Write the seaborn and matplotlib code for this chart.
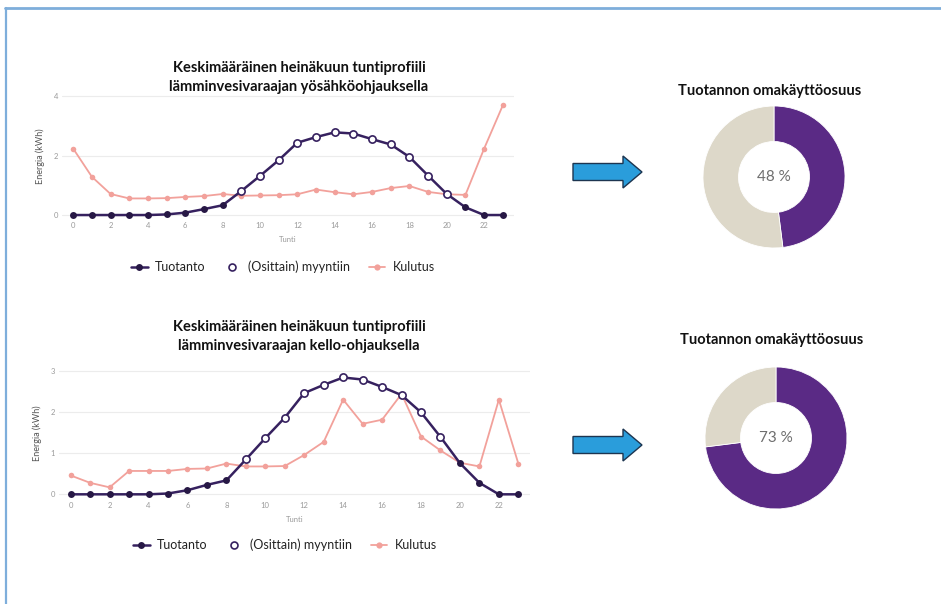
import numpy as np
import pandas as pd
import matplotlib
matplotlib.use("Agg")
import matplotlib.pyplot as plt
from matplotlib.lines import Line2D
from matplotlib.patches import Polygon
import seaborn as sns

# ---- data -------------------------------------------------------------
tunnit = list(range(24))

# July average hourly profile, water heater on night-tariff control
tuotanto_yo = [0, 0, 0, 0, 0, 0.02, 0.08, 0.20, 0.33, 0.81, 1.32, 1.85,
               2.44, 2.63, 2.79, 2.75, 2.56, 2.38, 1.96, 1.33, 0.71, 0.26, 0, 0]
kulutus_yo = [2.24, 1.29, 0.71, 0.56, 0.56, 0.57, 0.61, 0.64, 0.71, 0.65, 0.66, 0.67,
              0.70, 0.86, 0.77, 0.70, 0.78, 0.91, 0.98, 0.78, 0.70, 0.68, 2.24, 3.70]
myynti_tunnit_yo = [9, 10, 11, 12, 13, 14, 15, 16, 17, 18, 19, 20]

# July average hourly profile, water heater on clock control
tuotanto_kello = [0, 0, 0, 0, 0, 0.02, 0.10, 0.23, 0.34, 0.85, 1.37, 1.87,
                  2.47, 2.67, 2.85, 2.80, 2.62, 2.42, 2.00, 1.40, 0.76, 0.28, 0, 0]
kulutus_kello = [0.46, 0.28, 0.17, 0.57, 0.57, 0.57, 0.62, 0.63, 0.75, 0.68, 0.68, 0.69,
                 0.96, 1.28, 2.31, 1.72, 1.82, 2.45, 1.41, 1.07, 0.77, 0.68, 2.31, 0.75]
myynti_tunnit_kello = [9, 10, 11, 12, 13, 14, 15, 16, 17, 18, 19]

omakaytto_yo = 48
omakaytto_kello = 73

otsikko_yo = ["Keskimääräinen heinäkuun tuntiprofiili",
              "lämminvesivaraajan yösähköohjauksella"]
otsikko_kello = ["Keskimääräinen heinäkuun tuntiprofiili",
                 "lämminvesivaraajan kello-ohjauksella"]
donitsi_otsikko = "Tuotannon omakäyttöosuus"
sarjat = ["Tuotanto", "(Osittain) myyntiin", "Kulutus"]

# ---- style ------------------------------------------------------------
sns.set_theme(style="white")
plt.rcParams["font.family"] = ["Lato", "DejaVu Sans"]

C_PROD = "#36215f"
C_PROD_MK = "#271845"
C_CONS = "#f2a19b"
C_DONUT = "#5a2a85"
C_REST = "#ddd8c9"
C_TICK = "#9a9a9a"
C_GRID = "#ececec"

W, H = 941, 604
fig = plt.figure(figsize=(W / 100, H / 100), dpi=100)
fig.patch.set_facecolor("white")


def fx(px):
    return px / W


def fy(py):
    return 1 - py / H


def box(left, top, width, height):
    return [fx(left), fy(top + height), width / W, height / H]


def line_panel(rect, tuotanto, kulutus, myynti_tunnit, ylim, yticks,
               title, title_x, title_ys, legend_xy, xlabel_xy):
    ax = fig.add_axes(rect)
    df = pd.DataFrame({"Tunti": tunnit, "Tuotanto": tuotanto, "Kulutus": kulutus})
    sns.lineplot(data=df, x="Tunti", y="Kulutus", ax=ax, color=C_CONS, lw=1.3,
                 marker="o", markersize=4, markeredgewidth=0,
                 markerfacecolor=C_CONS, legend=False, zorder=2)
    sns.lineplot(data=df, x="Tunti", y="Tuotanto", ax=ax, color=C_PROD, lw=1.8,
                 marker="o", markersize=5, markeredgewidth=0,
                 markerfacecolor=C_PROD_MK, legend=False, zorder=3)
    sel = df[df["Tunti"].isin(myynti_tunnit)]
    ax.plot(sel["Tunti"], sel["Tuotanto"], ls="none", marker="o", ms=5.2,
            mfc="white", mec=C_PROD, mew=1.2, zorder=4)

    ax.set_xlim(-0.6, 23.6)
    ax.set_ylim(*ylim)
    ax.set_xticks(range(0, 24, 2))
    ax.set_yticks(yticks)
    ax.tick_params(axis="both", labelsize=5.5, labelcolor=C_TICK, length=0, pad=3)
    ax.grid(axis="y", color=C_GRID, lw=0.8)
    ax.grid(axis="x", visible=False)
    for s in ax.spines.values():
        s.set_visible(False)
    ax.set_xlabel("")
    ax.set_ylabel("Energia (kWh)", fontsize=6.5, color="#555555", labelpad=6)
    fig.text(fx(xlabel_xy[0]), fy(xlabel_xy[1]), "Tunti", fontsize=5.5,
             color=C_TICK, ha="center", va="center")
    for rivi, ty in zip(title, title_ys):
        fig.text(fx(title_x), fy(ty), rivi, fontsize=10.5, fontweight="bold",
                 ha="center", va="center", color="#111111")

    handles = [
        Line2D([], [], color=C_PROD, lw=1.8, marker="o", ms=5, mfc=C_PROD_MK, mew=0),
        Line2D([], [], ls="none", marker="o", ms=5, mfc="white", mec=C_PROD, mew=1.2),
        Line2D([], [], color=C_CONS, lw=1.3, marker="o", ms=4.5, mfc=C_CONS, mew=0),
    ]
    fig.legend(handles, sarjat, loc="center", ncol=3, frameon=False,
               bbox_to_anchor=(fx(legend_xy[0]), fy(legend_xy[1])),
               bbox_transform=fig.transFigure, fontsize=9, handlelength=1.3,
               columnspacing=1.5, handletextpad=0.6, labelcolor="#222222")
    return ax


def donut_panel(cx, cy, r, share, title_y):
    ax = fig.add_axes(box(cx - r, cy - r, 2 * r, 2 * r))
    ax.pie([share, 100 - share], colors=[C_DONUT, C_REST], startangle=90,
           counterclock=False, radius=1.0,
           wedgeprops=dict(width=0.5, edgecolor="white", linewidth=0.6))
    ax.set_xlim(-1, 1)
    ax.set_ylim(-1, 1)
    ax.set_aspect("equal")
    ax.axis("off")
    ax.text(0, 0, f"{share} %", ha="center", va="center", fontsize=11,
            color="#6e6e6e")
    fig.text(fx(cx - 4), fy(title_y), donitsi_otsikko, fontsize=10.5,
             fontweight="bold", ha="center", va="center", color="#111111")


def arrow(cy):
    x0, xb, xt = 573, 623, 642
    bh, hh = 8.5, 16
    pts = [(x0, cy - bh), (xb, cy - bh), (xb, cy - hh), (xt, cy),
           (xb, cy + hh), (xb, cy + bh), (x0, cy + bh)]
    poly = Polygon([(fx(x), fy(y)) for x, y in pts], closed=True,
                   transform=fig.transFigure, facecolor="#2a9ddb",
                   edgecolor="#1d3550", lw=1.0)
    fig.add_artist(poly)


# ---- panels -----------------------------------------------------------
line_panel(box(62, 95, 452, 123), tuotanto_yo, kulutus_yo, myynti_tunnit_yo,
           (-0.1, 4.05), [0, 2, 4], otsikko_yo, 299, (68, 87), (283, 267), (288, 240))
line_panel(box(59, 369.3, 471, 128.3), tuotanto_kello, kulutus_kello,
           myynti_tunnit_kello, (-0.08, 3.05), [0, 1, 2, 3], otsikko_kello,
           299, (327, 346), (285, 545), (295, 520))

donut_panel(774, 177, 71, omakaytto_yo, 91)
donut_panel(776, 438, 71, omakaytto_kello, 340)

arrow(172)
arrow(445)

# frame lines along the top and left edge
fig.add_artist(Line2D([fx(5), 1], [fy(7.5), fy(7.5)], transform=fig.transFigure,
                      color="#7eaedb", lw=2.0))
fig.add_artist(Line2D([fx(5.5), fx(5.5)], [fy(7.5), 0], transform=fig.transFigure,
                      color="#7eaedb", lw=1.6))

fig.savefig("out.png", dpi=100, facecolor="white")
